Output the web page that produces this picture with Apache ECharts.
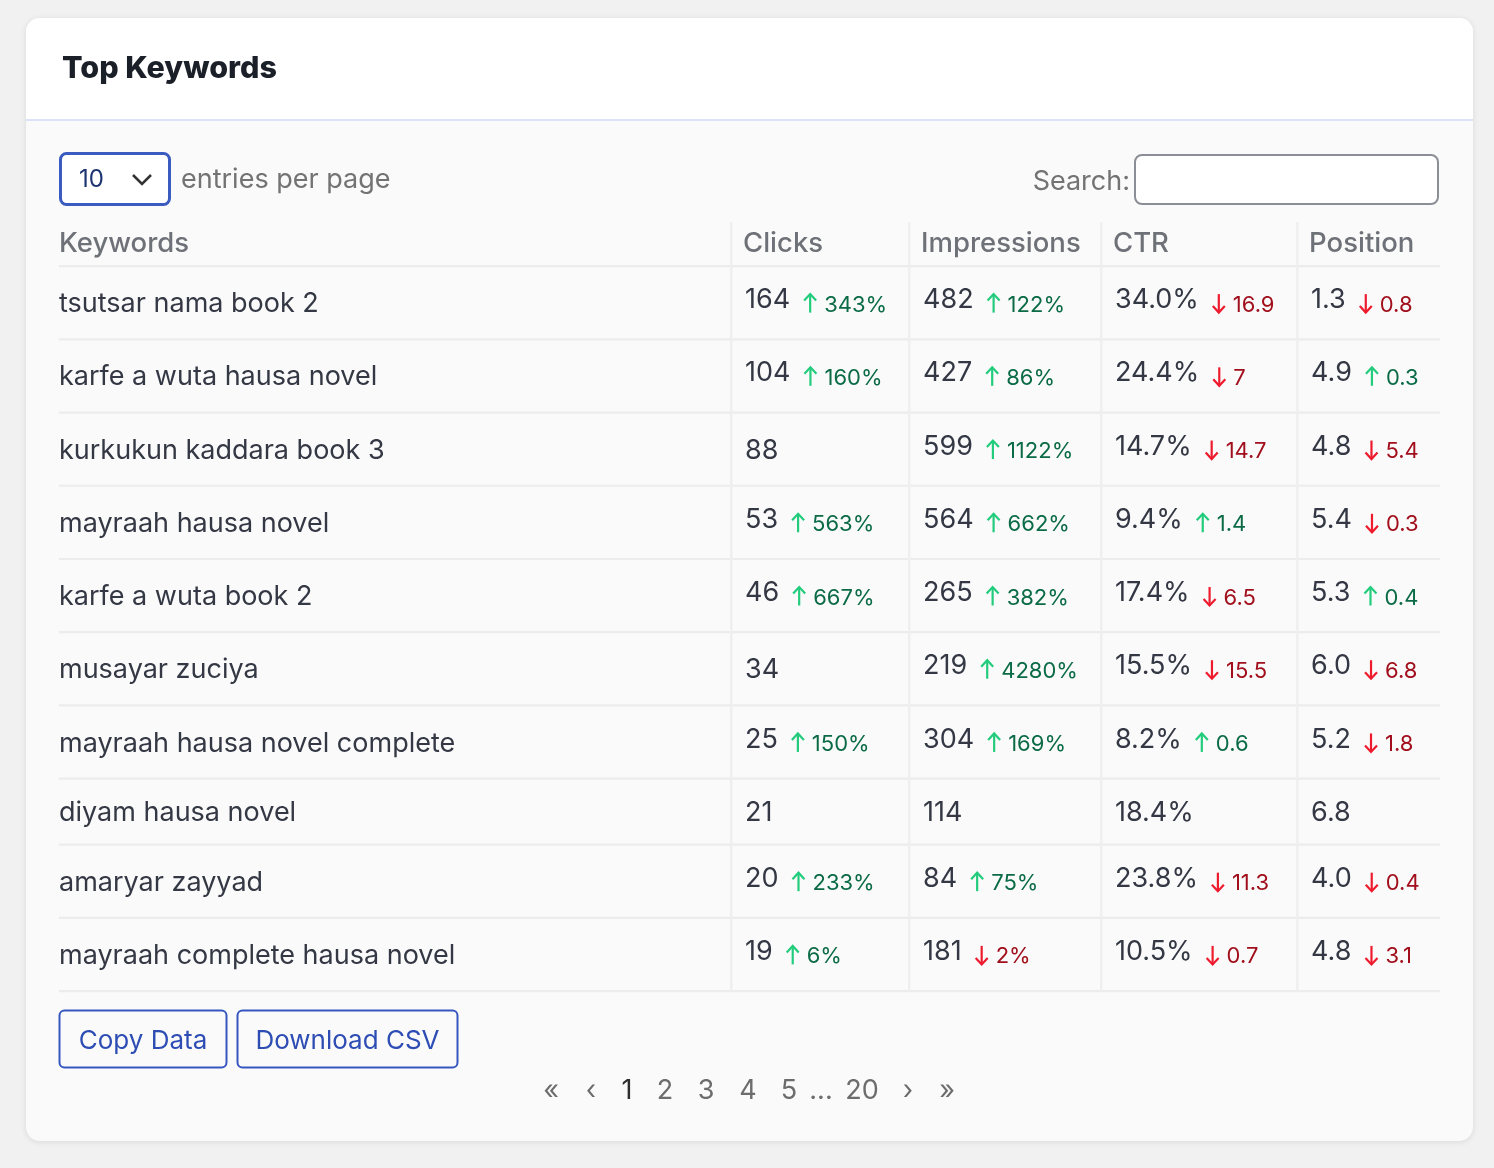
<!DOCTYPE html>
<html>
<head>
<meta charset="utf-8">
<script src="https://cdn.jsdelivr.net/npm/echarts@6/dist/echarts.min.js"></script>
<style>
html,body{margin:0;padding:0;background:#f1f1f1;}
#main{width:1494px;height:1168px;}
</style>
</head>
<body>
<div id="main"></div>
<script>
// ---------- DATA ----------
const columns = ['Keywords', 'Clicks', 'Impressions', 'CTR', 'Position'];
const keywords = ['tsutsar nama book 2', 'karfe a wuta hausa novel', 'kurkukun kaddara book 3', 'mayraah hausa novel', 'karfe a wuta book 2', 'musayar zuciya', 'mayraah hausa novel complete', 'diyam hausa novel', 'amaryar zayyad', 'mayraah complete hausa novel'];
const clicks = [164, 104, 88, 53, 46, 34, 25, 21, 20, 19];
const clicksChange = [343, 160, null, 563, 667, null, 150, null, 233, 6];
const impressions = [482, 427, 599, 564, 265, 219, 304, 114, 84, 181];
const impressionsChange = [122, 86, 1122, 662, 382, 4280, 169, null, 75, -2];
const ctr = [34.0, 24.4, 14.7, 9.4, 17.4, 15.5, 8.2, 18.4, 23.8, 10.5];
const ctrChange = [-16.9, -7, -14.7, 1.4, -6.5, -15.5, 0.6, null, -11.3, -0.7];
const position = [1.3, 4.9, 4.8, 5.4, 5.3, 6.0, 5.2, 6.8, 4.0, 4.8];
const positionChange = [-0.8, 0.3, -5.4, -0.3, 0.4, -6.8, -1.8, null, -0.4, -3.1];
const pageLinks = ['«', '‹', '1', '2', '3', '4', '5', '...', '20', '›', '»'];
const currentPage = '1';
const entriesPerPage = '10';

// ---------- LAYOUT ----------
const FONT = 'Inter, "Noto Sans", sans-serif';
const colEdges = [0, 48.66, 61.55, 75.45, 89.65, 100]; // % of table width
const HEADER_H = 44, ROW_H = 73.2, ROW_H_PLAIN = 66;
const pageX = [551, 591, 627, 665, 706, 748, 789, 821, 862, 908, 947];

const numericCols = [
  { vals: clicks, chg: clicksChange, fmt: v => String(v), cfmt: v => Math.abs(v) + '%' },
  { vals: impressions, chg: impressionsChange, fmt: v => String(v), cfmt: v => Math.abs(v) + '%' },
  { vals: ctr, chg: ctrChange, fmt: v => v.toFixed(1) + '%', cfmt: v => String(Math.abs(v)) },
  { vals: position, chg: positionChange, fmt: v => v.toFixed(1), cfmt: v => String(Math.abs(v)) }
];

const rowEdges = [0, HEADER_H];
keywords.forEach((k, i) => {
  const has = numericCols.some(c => c.chg[i] != null);
  rowEdges.push(rowEdges[rowEdges.length - 1] + (has ? ROW_H : ROW_H_PLAIN));
});
const totalH = rowEdges[rowEdges.length - 1];

const cells = [];
for (let r = 0; r <= keywords.length; r++) for (let c = 0; c < columns.length; c++) cells.push([c, r]);

const mctx = document.createElement('canvas').getContext('2d');
function textW(str, font) { mctx.font = font; return mctx.measureText(str).width; }

const MAIN_FONT = '27px ' + FONT;
const DELTA_FONT = '22px ' + FONT;
const HEAD_FONT = '500 27.5px ' + FONT;
const TXT = '#343844';
const UP_ARROW = '#22cc7c', UP_TXT = '#0b6b46', DN_ARROW = '#ee1b2e', DN_TXT = '#a10f1c';

function renderItem(params, api) {
  const c = api.value(0), r = api.value(1);
  const p0 = api.coord([colEdges[c], rowEdges[r]]);
  const p1 = api.coord([colEdges[c + 1], rowEdges[r + 1]]);
  const left = p0[0], top = p0[1], right = p1[0], bottom = p1[1];
  const cy = (top + bottom) / 2;
  const children = [];
  // borders
  children.push({ type: 'rect', shape: { x: left, y: bottom - 1, width: right - left, height: 2.2 }, style: { fill: '#ececec' } });
  if (c > 0) children.push({ type: 'rect', shape: { x: left - 1, y: top, width: 2.5, height: bottom - top }, style: { fill: '#efefef' } });

  if (r === 0) {
    children.push({ type: 'text', style: { text: columns[c], x: left + (c === 0 ? 0 : 12), y: cy, verticalAlign: 'middle', font: HEAD_FONT, fill: '#6e7177' } });
  } else {
    const i = r - 1;
    if (c === 0) {
      children.push({ type: 'text', style: { text: keywords[i], x: left, y: cy + 1.5, verticalAlign: 'middle', font: MAIN_FONT, fill: TXT } });
    } else {
      const col = numericCols[c - 1];
      const main = col.fmt(col.vals[i]);
      const d = col.chg[i];
      const x0 = left + 14;
      if (d == null) {
        children.push({ type: 'text', style: { text: main, x: x0, y: cy + 1.5, verticalAlign: 'middle', font: MAIN_FONT, fill: TXT } });
      } else {
        children.push({ type: 'text', style: { text: main, x: x0, y: cy - 2.5, verticalAlign: 'middle', font: MAIN_FONT, fill: TXT } });
        const ax = x0 + textW(main, MAIN_FONT) + 14 + 6;
        const up = d > 0;
        const aTop = cy - 8.5, aBot = cy + 10;
        const aCol = up ? UP_ARROW : DN_ARROW;
        if (up) {
          children.push({ type: 'polyline', shape: { points: [[ax - 6, aTop + 6.5], [ax, aTop], [ax + 6, aTop + 6.5]] }, style: { stroke: aCol, lineWidth: 2.2, fill: null } });
        } else {
          children.push({ type: 'polyline', shape: { points: [[ax - 6, aBot - 6.5], [ax, aBot], [ax + 6, aBot - 6.5]] }, style: { stroke: aCol, lineWidth: 2.2, fill: null } });
        }
        children.push({ type: 'line', shape: { x1: ax, y1: aTop, x2: ax, y2: aBot }, style: { stroke: aCol, lineWidth: 2.2 } });
        children.push({ type: 'text', style: { text: col.cfmt(d), x: ax + 14, y: cy + 2.5, verticalAlign: 'middle', font: DELTA_FONT, fill: up ? UP_TXT : DN_TXT } });
      }
    }
  }
  return { type: 'group', children };
}

// ---------- CHART ----------
const chart = echarts.init(document.getElementById('main'), null, { renderer: 'canvas' });

const option = {
  backgroundColor: '#f1f1f1',
  animation: false,
  title: {
    text: 'Top Keywords', left: 57, top: 46,
    textStyle: { fontFamily: FONT, fontSize: 30.5, fontWeight: 800, color: '#1b1f27', lineHeight: 36 }
  },
  grid: { left: 59, right: 54, top: 222, height: 769 },
  xAxis: { type: 'value', min: 0, max: 100, show: false },
  yAxis: { type: 'value', min: 0, max: totalH, inverse: true, show: false },
  graphic: [
    { type: 'rect', z: 0, shape: { x: 26, y: 18, width: 1447, height: 1123, r: 14 }, style: { fill: '#fafafa', shadowBlur: 6, shadowColor: 'rgba(0,0,0,0.10)', shadowOffsetY: 1 } },
    { type: 'rect', z: 0, shape: { x: 26, y: 18, width: 1447, height: 101, r: [14, 14, 0, 0] }, style: { fill: '#ffffff' } },
    { type: 'rect', z: 0, shape: { x: 26, y: 119, width: 1447, height: 2 }, style: { fill: '#dbe3fb' } },
    // entries select
    { type: 'rect', z: 10, shape: { x: 60.5, y: 153.5, width: 109, height: 51, r: 6 }, style: { fill: '#ffffff', stroke: '#3a5bc0', lineWidth: 3 } },
    { type: 'text', z: 10, style: { text: entriesPerPage, x: 79, y: 180, verticalAlign: 'middle', font: '24px ' + FONT, fill: '#1c3570' } },
    { type: 'polyline', z: 10, shape: { points: [[133, 175], [142, 184], [151, 175]] }, style: { stroke: '#333', lineWidth: 2.5, fill: null } },
    { type: 'text', z: 10, style: { text: 'entries per page', x: 181, y: 180, verticalAlign: 'middle', font: '27px ' + FONT, fill: '#737373' } },
    { type: 'text', z: 10, style: { text: 'Search:', x: 1130, y: 182, align: 'right', verticalAlign: 'middle', font: '27px ' + FONT, fill: '#737373' } },
    { type: 'rect', z: 10, shape: { x: 1135, y: 155, width: 303, height: 49, r: 7 }, style: { fill: '#ffffff', stroke: '#8b8e94', lineWidth: 2 } },
    // buttons
    { type: 'rect', z: 10, shape: { x: 59.5, y: 1010.5, width: 167, height: 57, r: 5 }, style: { fill: 'transparent', stroke: '#3656c0', lineWidth: 2 } },
    { type: 'text', z: 10, style: { text: 'Copy Data', x: 143, y: 1041, align: 'center', verticalAlign: 'middle', font: '26px ' + FONT, fill: '#2d4db4' } },
    { type: 'rect', z: 10, shape: { x: 237.5, y: 1010.5, width: 220, height: 57, r: 5 }, style: { fill: 'transparent', stroke: '#3656c0', lineWidth: 2 } },
    { type: 'text', z: 10, style: { text: 'Download CSV', x: 347.5, y: 1041, align: 'center', verticalAlign: 'middle', font: '26px ' + FONT, fill: '#2d4db4' } }
  ].concat(pageLinks.map((t, k) => ({
    type: 'text', z: 10,
    style: { text: t, x: pageX[k], y: 1091, align: 'center', verticalAlign: 'middle', font: '27px ' + FONT, fill: t === currentPage ? '#2e2e2e' : '#6d6d6d' }
  }))),
  series: [{
    type: 'custom',
    coordinateSystem: 'cartesian2d',
    renderItem: renderItem,
    encode: { x: 0, y: 1 },
    data: cells,
    silent: true
  }]
};
chart.setOption(option);
</script>
</body>
</html>
